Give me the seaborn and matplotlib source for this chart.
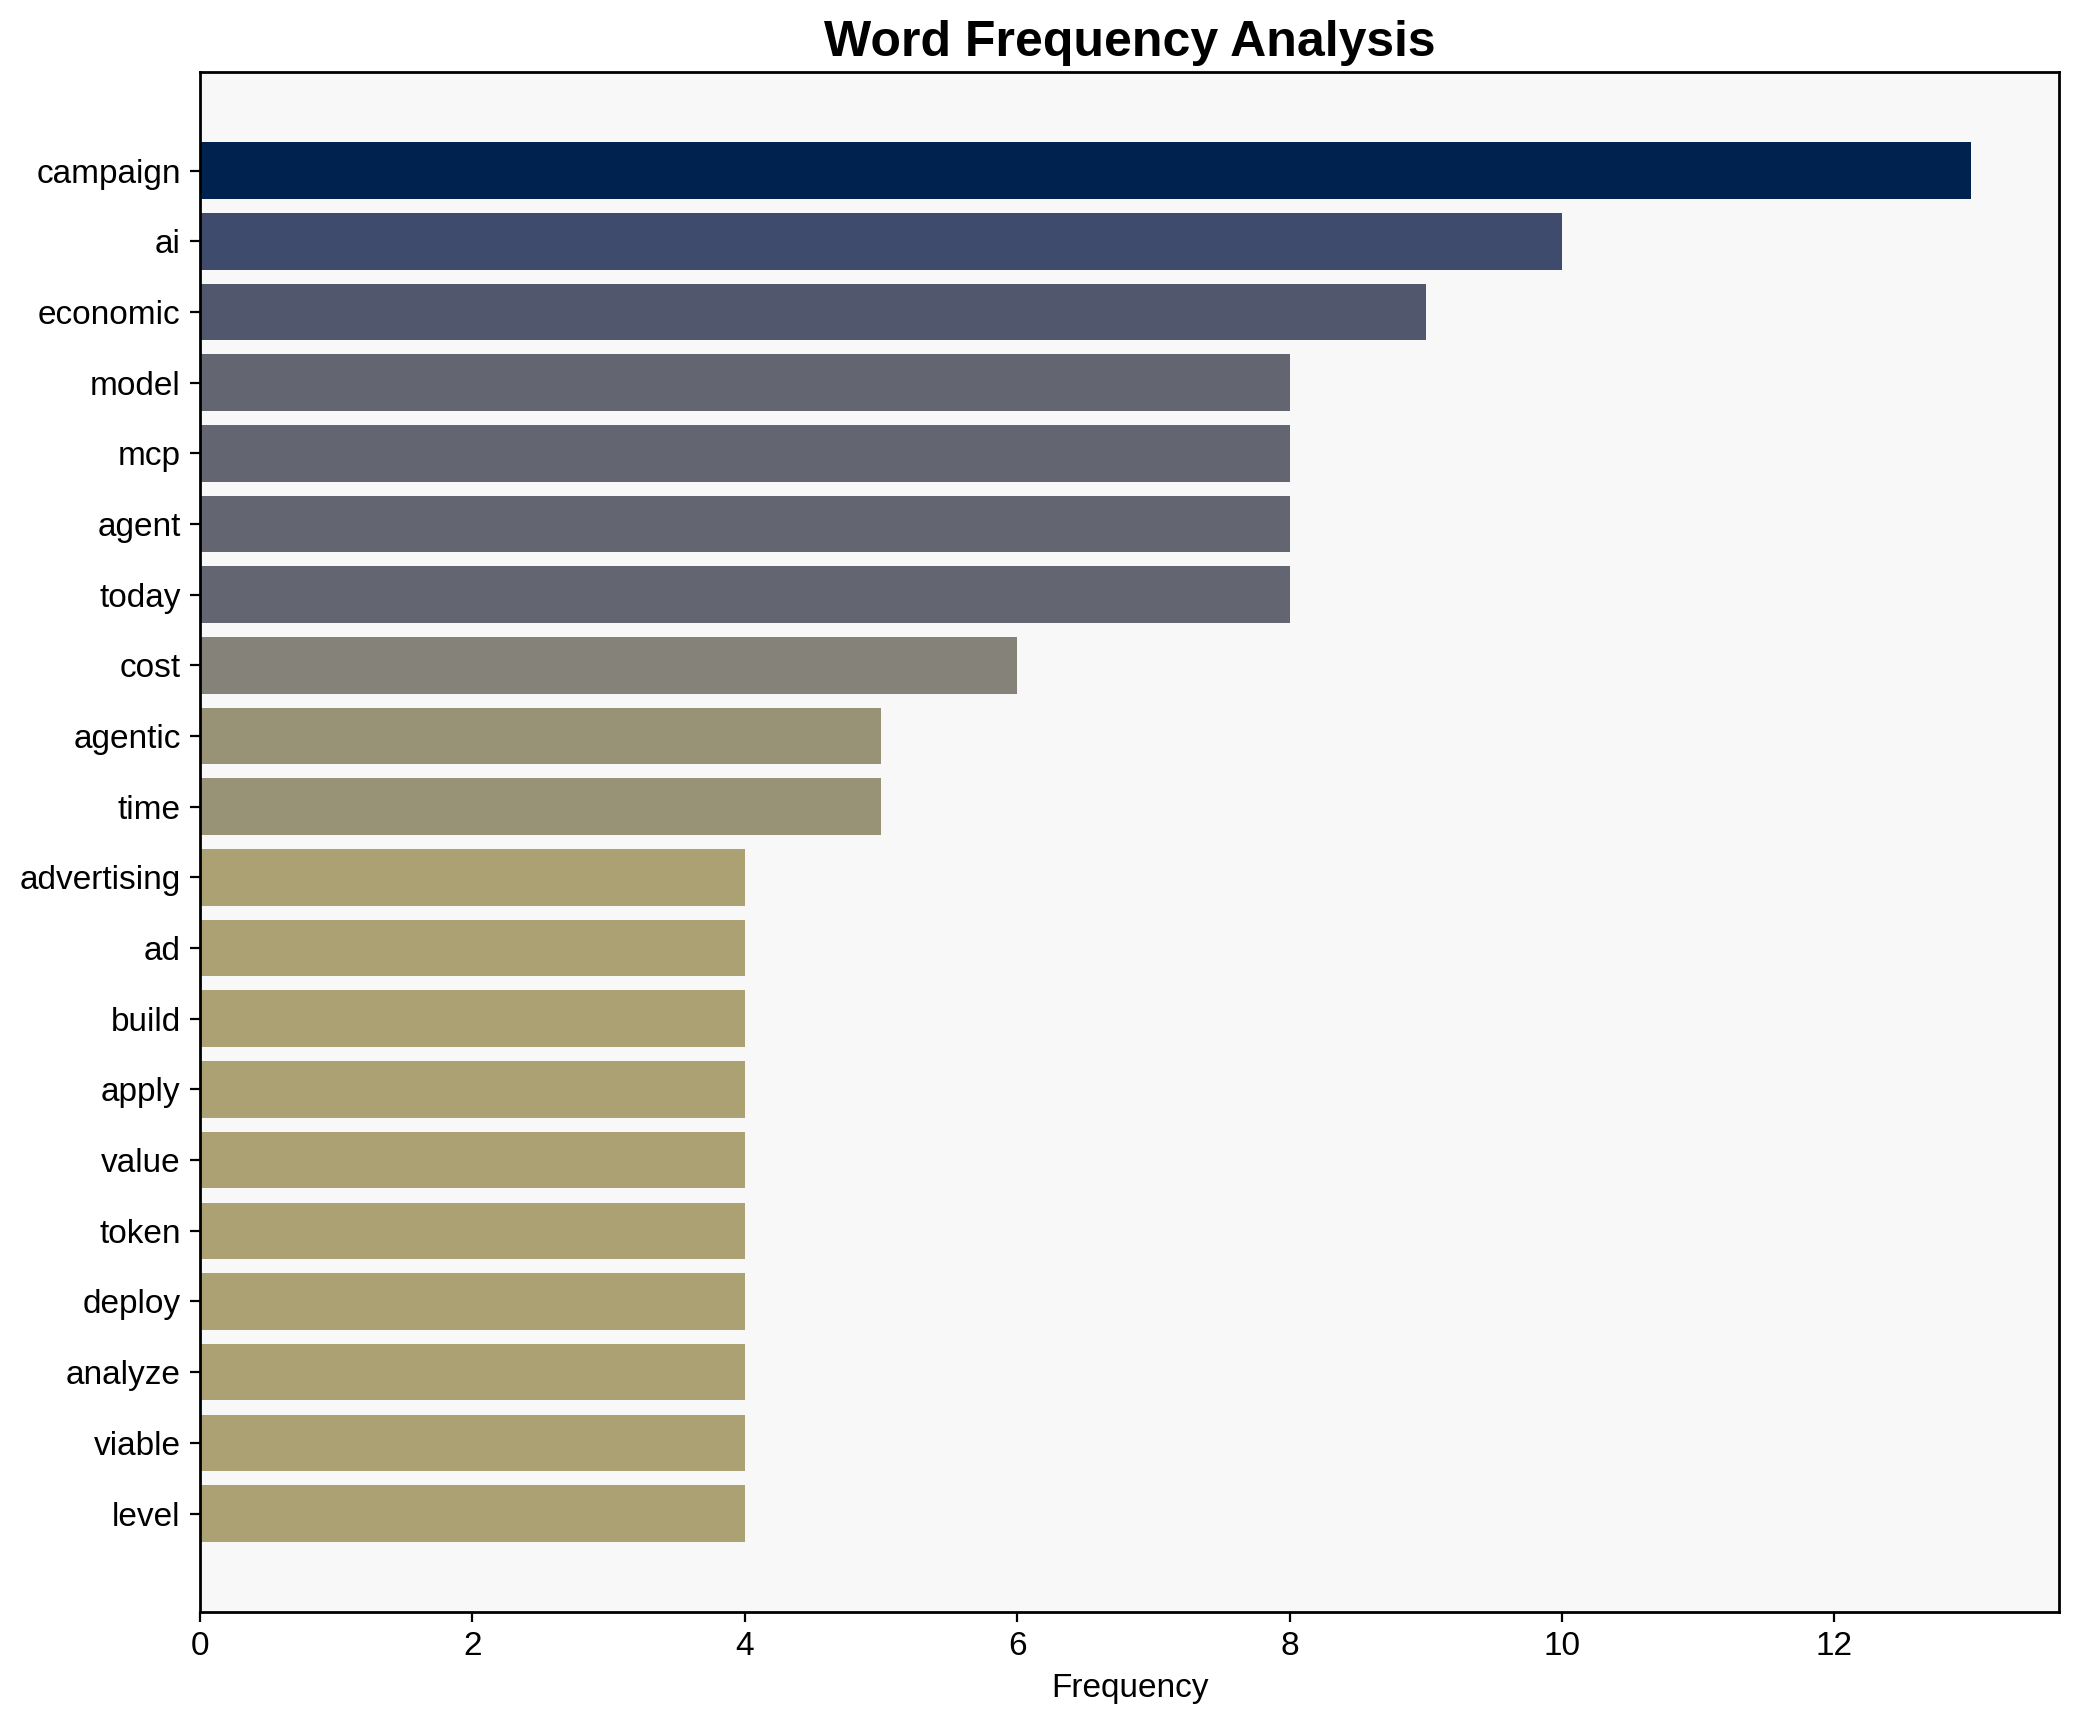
import numpy as np
import pandas as pd
import matplotlib
matplotlib.use("Agg")
import matplotlib.pyplot as plt
import seaborn as sns

# word counts
words = ["campaign", "ai", "economic", "model", "mcp", "agent", "today", "cost",
         "agentic", "time", "advertising", "ad", "build", "apply", "value",
         "token", "deploy", "analyze", "viable", "level"]
freqs = [13, 10, 9, 8, 8, 8, 8, 6, 5, 5, 4, 4, 4, 4, 4, 4, 4, 4, 4, 4]

plt.rcParams['font.family'] = ['Liberation Sans', 'DejaVu Sans']

df = pd.DataFrame({"word": words, "freq": freqs})

# colour by frequency: highest count gets the dark end of cividis
cmap = plt.get_cmap("cividis")
fmax = max(freqs)
palette = {w: cmap(1 - f / fmax) for w, f in zip(words, freqs)}

fig, ax = plt.subplots(figsize=(10.4, 8.61), dpi=200)
fig.subplots_adjust(left=0.0962, right=0.990, top=0.958, bottom=0.064)
ax.set_facecolor("#f8f8f8")

sns.barplot(data=df, x="freq", y="word", hue="word", palette=palette,
            legend=False, width=0.8, saturation=1, ax=ax)

# same padding as a plain barh with default margins
n = len(words)
pad = 0.4 + 0.05 * (n - 1 + 0.8)
ax.set_ylim(n - 1 + pad, -pad)
ax.set_xlim(0, fmax * 1.05)

for s in ax.spines.values():
    s.set_visible(True)
    s.set_color("black")
    s.set_linewidth(1.0)

ax.set_title("Word Frequency Analysis", fontsize=18, fontweight="bold")
ax.set_xlabel("Frequency", fontsize=12)
ax.set_ylabel("")
ax.tick_params(axis="both", labelsize=12)
ax.grid(False)

fig.savefig("out.png", dpi=200)
